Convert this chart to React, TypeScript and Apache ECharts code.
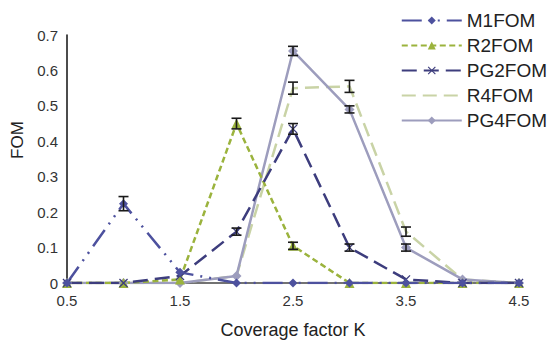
import React, { useEffect, useRef } from "react";
import * as echarts from "echarts";

const categories = ["0.5", "1", "1.5", "2", "2.5", "3", "3.5", "4", "4.5"];
const yTicks = [0, 0.1, 0.2, 0.3, 0.4, 0.5, 0.6, 0.7];

const m1 = [0, 0.224, 0.03, 0, 0, 0, 0, 0, 0];
const r2 = [0, 0, 0.01, 0.45, 0.105, 0, 0, 0, 0];
const pg2 = [0, 0, 0.02, 0.145, 0.435, 0.1, 0.01, 0, 0];
const r4 = [0, 0, 0, 0.02, 0.55, 0.555, 0.145, 0.01, 0];
const pg4 = [0, 0, 0, 0.02, 0.655, 0.49, 0.1, 0.01, 0];

const m1Err = [null, 0.02, null, null, null, null, null, null, null];
const r2Err = [null, null, null, 0.015, 0.01, null, null, null, null];
const pg2Err = [null, null, null, 0.01, 0.015, 0.01, null, null, null];
const r4Err = [null, null, null, null, 0.017, 0.017, 0.013, null, null];
const pg4Err = [null, null, null, null, 0.013, 0.01, 0.01, null, null];

const FONT = "Liberation Sans, Arial, sans-serif";
const xShape =
  "path://M0,1L1,0L5,4L9,0L10,1L6,5L10,9L9,10L5,6L1,10L0,9L4,5Z";

function errSeries(values: number[], errs: (number | null)[]) {
  const data: number[][] = [];
  errs.forEach((e, i) => {
    if (e != null) data.push([i, values[i], e]);
  });
  return {
    type: "custom",
    silent: true,
    z: 10,
    data,
    renderItem: (params: any, api: any) => {
      const x = api.value(0);
      const y = api.value(1);
      const e = api.value(2);
      const top = api.coord([x, y + e]);
      const bot = api.coord([x, y - e]);
      const hw = 5;
      const style = { stroke: "#1a1a1a", lineWidth: 1.6 };
      return {
        type: "group",
        children: [
          { type: "line", shape: { x1: top[0], y1: top[1], x2: bot[0], y2: bot[1] }, style },
          { type: "line", shape: { x1: top[0] - hw, y1: top[1], x2: top[0] + hw, y2: top[1] }, style },
          { type: "line", shape: { x1: bot[0] - hw, y1: bot[1], x2: bot[0] + hw, y2: bot[1] }, style },
        ],
      };
    },
  };
}

export default function App() {
  const ref = useRef<HTMLDivElement>(null);
  useEffect(() => {
    if (!ref.current) return;
    const chart = echarts.init(ref.current, undefined, { renderer: "svg" });
    const lineBase = (name: string, data: number[], color: string, type: any, symbol: string, symbolSize: number, width = 2.5) => ({
      name,
      type: "line",
      data,
      symbol,
      symbolSize,
      showSymbol: symbol !== "none",
      itemStyle: { color },
      lineStyle: { color, width, type },
    });
    chart.setOption({
      animation: false,
      backgroundColor: "#ffffff",
      grid: { left: 67, right: 35, top: 35, bottom: 59 },
      legend: {
        right: 2,
        top: 6,
        orient: "vertical",
        itemWidth: 60,
        itemHeight: 10,
        itemGap: 6,
        textStyle: { fontFamily: FONT, fontSize: 19, color: "#222" },
        data: [
          "M1FOM",
          "R2FOM",
          "PG2FOM",
          { name: "R4FOM", itemStyle: { color: "rgba(0,0,0,0)", borderWidth: 0 } },
          "PG4FOM",
        ],
      },
      xAxis: {
        type: "category",
        data: categories,
        boundaryGap: false,
        name: "Coverage factor K",
        nameLocation: "middle",
        nameGap: 38,
        nameTextStyle: { fontFamily: FONT, fontSize: 18, color: "#222" },
        axisLine: { lineStyle: { color: "#444", width: 1.5 } },
        axisTick: { show: false },
        axisLabel: { interval: 1, fontFamily: FONT, fontSize: 15, color: "#333", margin: 10 },
        splitLine: { show: false },
      },
      yAxis: {
        type: "value",
        min: 0,
        max: 0.7,
        interval: 0.1,
        axisLine: { show: true, lineStyle: { color: "#111", width: 1.5 } },
        axisTick: { show: false },
        axisLabel: {
          fontFamily: FONT,
          fontSize: 15,
          color: "#333",
          margin: 9,
          formatter: (v: number) => {
            const t = yTicks.find((k) => Math.abs(k - v) < 1e-6);
            return t === 0 ? "0" : String(Math.round(v * 10) / 10);
          },
        },
        splitLine: { show: false },
      },
      graphic: [
        {
          type: "text",
          x: 17,
          y: 140,
          rotation: Math.PI / 2,
          style: {
            text: "FOM",
            fontFamily: FONT,
            fontSize: 17,
            fill: "#222",
            textAlign: "center",
            textVerticalAlign: "middle",
          },
        },
      ],
      series: [
        lineBase("R4FOM", r4, "#c9d3a6", [14, 7], "none", 0),
        lineBase("PG4FOM", pg4, "#9d9dbd", "solid", "diamond", 10),
        lineBase("R2FOM", r2, "#9bb33d", [6, 3.5], "triangle", 10),
        lineBase("PG2FOM", pg2, "#3d3d7d", [15, 7], xShape, 9),
        lineBase("M1FOM", m1, "#4d519e", [20, 7, 2, 7, 2, 7], "diamond", 9),
        errSeries(m1, m1Err),
        errSeries(r2, r2Err),
        errSeries(pg2, pg2Err),
        errSeries(r4, r4Err),
        errSeries(pg4, pg4Err),
      ],
    });
    return () => chart.dispose();
  }, []);
  return (
    <div
      ref={ref}
      style={{ position: "absolute", left: 0, top: 0, width: 554, height: 344 }}
    />
  );
}
